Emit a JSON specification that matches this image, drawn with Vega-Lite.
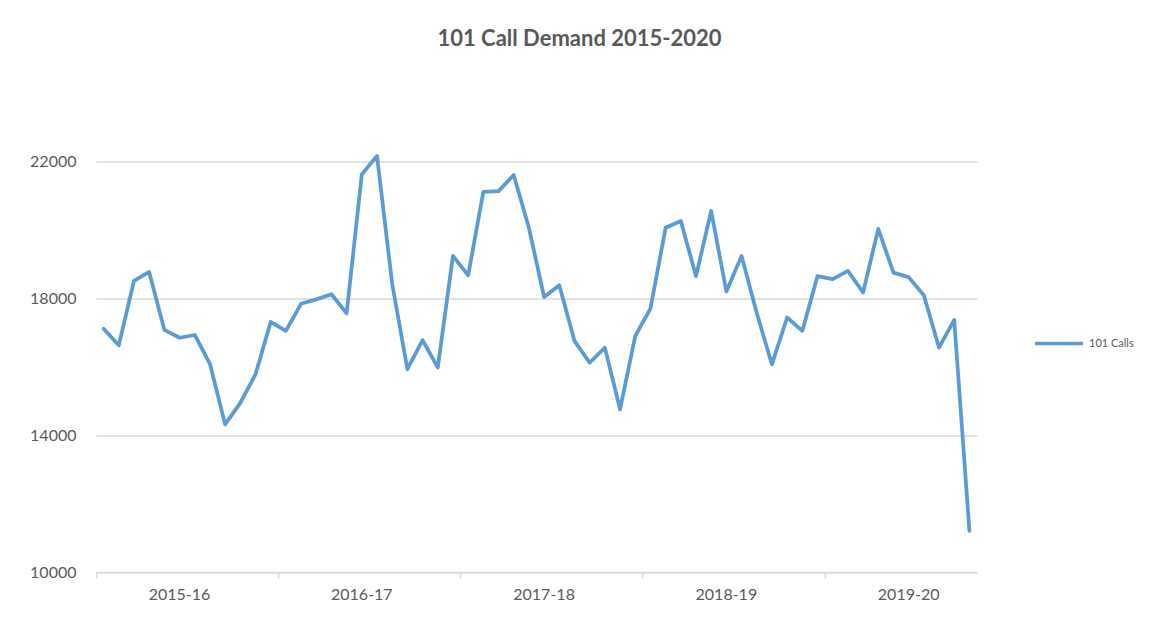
{
  "$schema": "https://vega.github.io/schema/vega-lite/v6.json",
  "width": 881,
  "height": 479.5,
  "autosize": {"type": "none"},
  "padding": {"left": 96, "top": 92.5, "right": 174, "bottom": 45},
  "background": "white",
  "title": {
    "text": "101 Call Demand 2015-2020",
    "font": "Lato",
    "fontSize": 22,
    "fontWeight": "bold",
    "color": "#595959",
    "anchor": "middle",
    "baseline": "alphabetic",
    "offset": 25,
    "dx": 43
  },
  "data": {
    "values": [
      {"month": "2015-04", "calls": 17100},
      {"month": "2015-05", "calls": 16620},
      {"month": "2015-06", "calls": 18500},
      {"month": "2015-07", "calls": 18760},
      {"month": "2015-08", "calls": 17070},
      {"month": "2015-09", "calls": 16840},
      {"month": "2015-10", "calls": 16920},
      {"month": "2015-11", "calls": 16080},
      {"month": "2015-12", "calls": 14310},
      {"month": "2016-01", "calls": 14940},
      {"month": "2016-02", "calls": 15770},
      {"month": "2016-03", "calls": 17300},
      {"month": "2016-04", "calls": 17040},
      {"month": "2016-05", "calls": 17830},
      {"month": "2016-06", "calls": 17960},
      {"month": "2016-07", "calls": 18110},
      {"month": "2016-08", "calls": 17550},
      {"month": "2016-09", "calls": 21610},
      {"month": "2016-10", "calls": 22150},
      {"month": "2016-11", "calls": 18410},
      {"month": "2016-12", "calls": 15920},
      {"month": "2017-01", "calls": 16770},
      {"month": "2017-02", "calls": 15970},
      {"month": "2017-03", "calls": 19230},
      {"month": "2017-04", "calls": 18660},
      {"month": "2017-05", "calls": 21100},
      {"month": "2017-06", "calls": 21120},
      {"month": "2017-07", "calls": 21590},
      {"month": "2017-08", "calls": 20050},
      {"month": "2017-09", "calls": 18030},
      {"month": "2017-10", "calls": 18370},
      {"month": "2017-11", "calls": 16750},
      {"month": "2017-12", "calls": 16110},
      {"month": "2018-01", "calls": 16550},
      {"month": "2018-02", "calls": 14750},
      {"month": "2018-03", "calls": 16890},
      {"month": "2018-04", "calls": 17690},
      {"month": "2018-05", "calls": 20050},
      {"month": "2018-06", "calls": 20250},
      {"month": "2018-07", "calls": 18640},
      {"month": "2018-08", "calls": 20540},
      {"month": "2018-09", "calls": 18190},
      {"month": "2018-10", "calls": 19230},
      {"month": "2018-11", "calls": 17560},
      {"month": "2018-12", "calls": 16060},
      {"month": "2019-01", "calls": 17430},
      {"month": "2019-02", "calls": 17040},
      {"month": "2019-03", "calls": 18640},
      {"month": "2019-04", "calls": 18550},
      {"month": "2019-05", "calls": 18790},
      {"month": "2019-06", "calls": 18160},
      {"month": "2019-07", "calls": 20020},
      {"month": "2019-08", "calls": 18740},
      {"month": "2019-09", "calls": 18610},
      {"month": "2019-10", "calls": 18080},
      {"month": "2019-11", "calls": 16550},
      {"month": "2019-12", "calls": 17360},
      {"month": "2020-01", "calls": 11200}
    ]
  },
  "mark": {"type": "line", "strokeWidth": 3.75, "strokeJoin": "round", "strokeCap": "round"},
  "encoding": {
    "x": {
      "field": "month",
      "type": "ordinal",
      "sort": "ascending",
      "scale": {"type": "band", "paddingInner": 0, "paddingOuter": 0},
      "axis": {
        "title": null,
        "bandPosition": 0,
        "values": ["2015-04", "2015-09", "2016-04", "2016-09", "2017-04", "2017-09", "2018-04", "2018-09", "2019-04", "2019-09"],
        "labelExpr": "indexof(datum.value, '-09') >= 0 ? substring(datum.value, 0, 4) + '-' + (toNumber(substring(datum.value, 2, 4)) + 1) : ''",
        "labelAngle": 0,
        "labelAlign": "center",
        "labelFont": "Lato",
        "labelFontSize": 16,
        "labelColor": "#595959",
        "labelPadding": 8,
        "labelOverlap": false,
        "domainColor": "#d9d9d9",
        "domainWidth": 1.5,
        "tickColor": "#d9d9d9",
        "tickWidth": 1.5,
        "tickSize": 6,
        "tickOpacity": {"condition": {"test": "indexof(datum.value, '-04') >= 0", "value": 1}, "value": 0},
        "grid": false
      }
    },
    "y": {
      "field": "calls",
      "type": "quantitative",
      "scale": {"domain": [10000, 24000], "nice": false, "zero": false},
      "axis": {
        "title": null,
        "values": [10000, 14000, 18000, 22000],
        "format": "d",
        "labelFont": "Lato",
        "labelFontSize": 16,
        "labelColor": "#595959",
        "labelPadding": 20,
        "ticks": false,
        "domain": false,
        "grid": true,
        "gridColor": "#d9d9d9",
        "gridWidth": 1.5
      }
    },
    "color": {
      "datum": "101 Calls",
      "type": "nominal",
      "scale": {"range": ["#5b9bd5"]},
      "legend": {
        "title": null,
        "orient": "none",
        "legendX": 937,
        "legendY": 225,
        "symbolType": "stroke",
        "symbolSize": 2304,
        "symbolStrokeWidth": 3.5,
        "labelFont": "Lato",
        "labelFontSize": 11,
        "labelColor": "#595959",
        "labelOffset": 4
      }
    }
  },
  "config": {"view": {"stroke": null}}
}
